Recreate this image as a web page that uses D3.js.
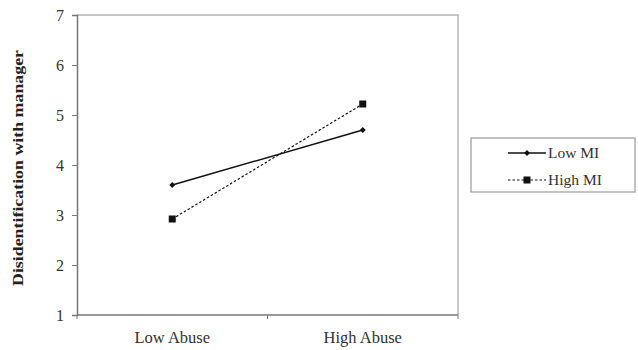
<!DOCTYPE html>
<html>
<head>
<meta charset="utf-8">
<script src="https://cdn.jsdelivr.net/npm/d3@7"></script>
<style>
  body { margin: 0; background: #fff; }
  svg { font-family: "Liberation Serif", "Times New Roman", serif; }
</style>
</head>
<body>
<div id="chart"></div>
<script>
// data
const categories = ["Low Abuse", "High Abuse"];
const lowMI = [3.6, 4.7];
const highMI = [2.92, 5.22];
const yTicks = [1, 2, 3, 4, 5, 6, 7];
const seriesNames = ["Low MI", "High MI"];

const w = 638, h = 350;
const mLeft = 77, mRight = 458, mTop = 15, mBottom = 315;

const svg = d3.select("#chart").append("svg")
  .attr("width", w).attr("height", h);

const x = d3.scalePoint().domain(categories).range([mLeft, mRight]).padding(0.5);
const xBand = d3.scaleBand().domain(categories).range([mLeft, mRight]);
const y = d3.scaleLinear().domain([1, 7]).range([mBottom, mTop]);

// plot frame (top + right light)
svg.append("path")
  .attr("d", `M${mLeft},${mTop}H${mRight}V${mBottom}`)
  .attr("fill", "none").attr("stroke", "#b5b5b5").attr("stroke-width", 1.5);

// y axis
const yAxis = svg.append("g")
  .attr("transform", `translate(${mLeft},0)`)
  .call(d3.axisLeft(y).tickValues(yTicks).tickSize(5).tickFormat(d3.format("d")));
yAxis.select(".domain").attr("stroke", "#777").attr("stroke-width", 1.5);
yAxis.selectAll(".tick line").attr("stroke", "#777");
yAxis.selectAll(".tick text").attr("font-size", 16).attr("fill", "#333").attr("x", -13)
  .attr("font-family", "Liberation Serif, serif");

// x axis: ticks at category boundaries
const xAxis = svg.append("g")
  .attr("transform", `translate(0,${mBottom})`);
xAxis.append("line")
  .attr("x1", mLeft).attr("x2", mRight)
  .attr("stroke", "#777").attr("stroke-width", 1.5);
const bounds = categories.map(c => xBand(c)).concat([mRight]);
xAxis.selectAll("line.tk").data(bounds).enter().append("line")
  .attr("class", "tk")
  .attr("x1", d => d).attr("x2", d => d)
  .attr("y1", 0).attr("y2", 4)
  .attr("stroke", "#777");
xAxis.selectAll("text").data(categories).enter().append("text")
  .attr("x", d => x(d)).attr("y", 28)
  .attr("text-anchor", "middle")
  .attr("font-size", 16.5).attr("fill", "#333")
  .text(d => d);

// y title
svg.append("text")
  .attr("transform", `translate(23,${(mTop + mBottom) / 2 + 3}) rotate(-90)`)
  .attr("text-anchor", "middle")
  .attr("font-size", 15.5).attr("font-weight", "bold").attr("fill", "#222")
  .attr("textLength", 236).attr("lengthAdjust", "spacingAndGlyphs")
  .text("Disidentification with manager");

const line = d3.line().x((d, i) => x(categories[i])).y(d => y(d));

// Low MI: solid, diamonds
svg.append("path").datum(lowMI)
  .attr("d", line).attr("fill", "none")
  .attr("stroke", "#111").attr("stroke-width", 1.4);
svg.selectAll("path.dia").data(lowMI).enter().append("path")
  .attr("class", "dia")
  .attr("d", d3.symbol(d3.symbolDiamond2, 22))
  .attr("transform", (d, i) => `translate(${x(categories[i])},${y(d)})`)
  .attr("fill", "#111");

// High MI: dashed, squares
svg.append("path").datum(highMI)
  .attr("d", line).attr("fill", "none")
  .attr("stroke", "#111").attr("stroke-width", 1.2)
  .attr("stroke-dasharray", "2.5,2");
svg.selectAll("rect.sq").data(highMI).enter().append("rect")
  .attr("class", "sq")
  .attr("x", (d, i) => x(categories[i]) - 3.5)
  .attr("y", d => y(d) - 3.5)
  .attr("width", 7).attr("height", 7)
  .attr("fill", "#111");

// legend
const lg = svg.append("g");
lg.append("rect")
  .attr("x", 471).attr("y", 138).attr("width", 164).attr("height", 54)
  .attr("fill", "#fff").attr("stroke", "#999").attr("stroke-width", 1.2);
const ly = [153, 180];
seriesNames.forEach((name, i) => {
  lg.append("line")
    .attr("x1", 508).attr("x2", 546)
    .attr("y1", ly[i]).attr("y2", ly[i])
    .attr("stroke", "#111").attr("stroke-width", i ? 1.2 : 1.4)
    .attr("stroke-dasharray", i ? "2.5,2" : null);
  if (i === 0) {
    lg.append("path")
      .attr("d", d3.symbol(d3.symbolDiamond2, 22))
      .attr("transform", `translate(527,${ly[i]})`)
      .attr("fill", "#111");
  } else {
    lg.append("rect")
      .attr("x", 523.5).attr("y", ly[i] - 3.5).attr("width", 7).attr("height", 7)
      .attr("fill", "#111");
  }
  lg.append("text")
    .attr("x", 548).attr("y", ly[i] + 5)
    .attr("font-size", 15.5).attr("fill", "#333")
    .text(name);
});
</script>
</body>
</html>
